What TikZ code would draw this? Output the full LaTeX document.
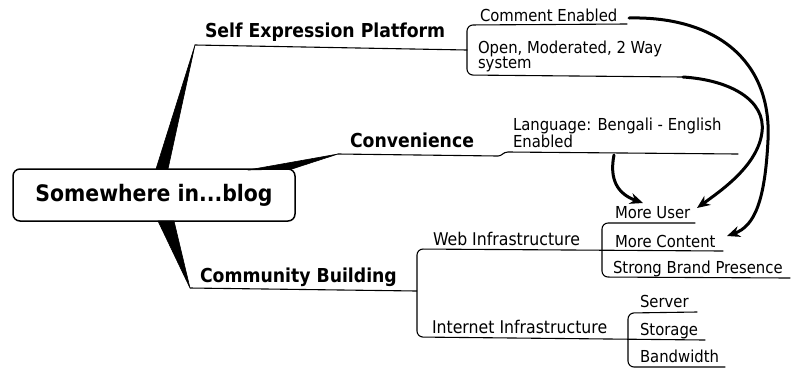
\documentclass[tikz,border=0pt]{standalone}
\usepackage{fontspec}
\setmainfont{DejaVu Sans Condensed}
\usetikzlibrary{arrows.meta}
\begin{document}
\begin{tikzpicture}[x=1pt,y=-1pt,
  every node/.style={inner sep=0pt, outer sep=0pt},
  lbl/.style={anchor=base west, font=\fontsize{16.5}{18}\selectfont},
  sublbl/.style={anchor=base west, font=\fontsize{17.5}{20}\selectfont},
  mainlbl/.style={anchor=base west, font=\fontsize{19.2}{22}\selectfont\bfseries},
  thinline/.style={line width=1.1pt, line cap=round, rounded corners=6pt},
  wedge/.style={fill=black, draw=black, line width=0.6pt, line join=round},
  rel/.style={line width=3pt, line cap=round, -{Stealth[length=13pt,width=11pt]}}]
\useasboundingbox (0,0) rectangle (791,368);

% root
\node[draw, rounded corners=7pt, line width=1.5pt, minimum width=282pt, minimum height=52pt,
      font=\fontsize{22.7}{28}\selectfont\bfseries] (root) at (154,195) {Somewhere in...blog};

% labels
\node[mainlbl] (sep)  at (205,37)  {Self Expression Platform};
\node[lbl] (ce)   at (480,21)  {Comment Enabled};
\node[lbl] (om1)  at (478,53)  {Open, Moderated, 2 Way};
\node[lbl] (om2)  at (478,68)  {system};
\node[mainlbl] (conv) at (350,147) {Convenience};
\node[lbl] (lang1) at (513,130) {Language: Bengali - English};
\node[lbl] (lang2) at (513,147) {Enabled};
\node[mainlbl] (comm) at (200,282) {Community Building};
\node[sublbl] (web)  at (433,245) {Web Infrastructure};
\node[lbl] (mu)   at (615,218) {More User};
\node[lbl] (mc)   at (615,247) {More Content};
\node[lbl] (sbp)  at (613,273) {Strong Brand Presence};
\node[sublbl] (inet) at (432,333) {Internet Infrastructure};
\node[lbl] (srv)  at (640,307) {Server};
\node[lbl] (sto)  at (640,335) {Storage};
\node[lbl] (bw)   at (640,362) {Bandwidth};

% coordinates
\coordinate (sepTip) at (195,45);
\coordinate (sepJ) at (467,50);
\coordinate (convTip) at (338,154);
\coordinate (commTip) at (190,288);
\coordinate (commJ) at (417,291);
\coordinate (ceEnd) at (629,18);
\coordinate (omEnd) at (683,77);
\coordinate (langStart) at (614,155);
\coordinate (muTip) at (697,208);
\coordinate (mcTip) at (727,236);
\coordinate (langTip) at (643,203);

% wedges
\filldraw[wedge] (156,169) -- (sepTip) -- (168,169) -- cycle;
\filldraw[wedge] (248,170) -- (convTip) -- (292,169) -- cycle;
\filldraw[wedge] (158,221) -- (commTip) -- (174,221) -- cycle;

% self expression platform
\draw[thinline] (sepTip) -- (sepJ);
\draw[thinline] (627,24) -- (467,25) -- (467,75) -- (omEnd);

% convenience
\draw[line width=1.1pt, line cap=round] (convTip) -- (498,156) .. controls (502,156) and (503,152) .. (508,152) -- (738,154);

% community building
\draw[line width=1.1pt] (commTip) -- (commJ);
\draw[thinline] (723,251) -- (417,249) -- (417,337) -- (705,340);
\draw[thinline] (695,223) -- (602,223) -- (602,277) -- (790,278);
\draw[thinline] (697,312) -- (628,313) -- (628,367) -- (725,367);

% relation arrows
\draw[rel] (ceEnd) .. controls (715,16) and (772,60) .. (768,140)
               .. controls (765,200) and (755,226) .. (mcTip);
\draw[rel] (omEnd) .. controls (730,80) and (766,100) .. (762,132)
               .. controls (758,165) and (722,190) .. (muTip);
\draw[rel] (langStart) .. controls (609,180) and (618,194) .. (langTip);
\end{tikzpicture}
\end{document}
